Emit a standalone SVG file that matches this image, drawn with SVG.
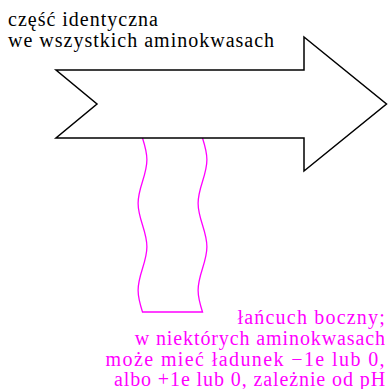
<svg xmlns="http://www.w3.org/2000/svg" width="388" height="389" viewBox="0 0 388 389">
<g id="sidechain" fill="none" stroke="#ff00ff" stroke-width="1.3">
<path d="M142.5,138 C144.75,145.09 146.9,151.88 146.9,159.75 C146.9,167.62 144.75,174.41 142.5,181.5 C140.25,188.59 138.1,195.38 138.1,203.25 C138.1,211.12 140.25,217.91 142.5,225 C144.75,232.09 146.9,238.88 146.9,246.75 C146.9,254.62 144.75,261.41 142.5,268.5 C140.25,275.59 138.1,282.38 138.1,290.25 C138.1,298.12 140.25,304.91 142.5,312 L202.5,312 C200.25,304.91 198.1,298.12 198.1,290.25 C198.1,282.38 200.25,275.59 202.5,268.5 C204.75,261.41 206.9,254.62 206.9,246.75 C206.9,238.88 204.75,232.09 202.5,225 C200.25,217.91 198.1,211.12 198.1,203.25 C198.1,195.38 200.25,188.59 202.5,181.5 C204.75,174.41 206.9,167.62 206.9,159.75 C206.9,151.88 204.75,145.09 202.5,138"/>
</g>
<g id="backbone">
<polygon fill="#fff" stroke="#000" stroke-width="1.5" points="56,70 304,70 304,37 386.5,104 304,171 304,138 56,138 97,104"/>
</g>
<g id="label-top">
<text x="8" y="26" font-family="Liberation Serif" font-size="20" letter-spacing="1" fill="#000">część identyczna</text>
<text x="8" y="47" font-family="Liberation Serif" font-size="20" letter-spacing="1" fill="#000">we wszystkich aminokwasach</text>
</g>
<g id="label-side">
<text x="386" y="324" font-family="Liberation Serif" font-size="20" letter-spacing="1.2" fill="#ff00ff" text-anchor="end">łańcuch boczny;</text>
<text x="386" y="345" font-family="Liberation Serif" font-size="20" letter-spacing="0.9" fill="#ff00ff" text-anchor="end">w niektórych aminokwasach</text>
<text x="386" y="366" font-family="Liberation Serif" font-size="20" letter-spacing="1.4" fill="#ff00ff" text-anchor="end">może mieć ładunek −1e lub 0,</text>
<text x="386" y="386" font-family="Liberation Serif" font-size="20" letter-spacing="0.9" fill="#ff00ff" text-anchor="end">albo +1e lub 0, zależnie od pH</text>
</g>
</svg>
